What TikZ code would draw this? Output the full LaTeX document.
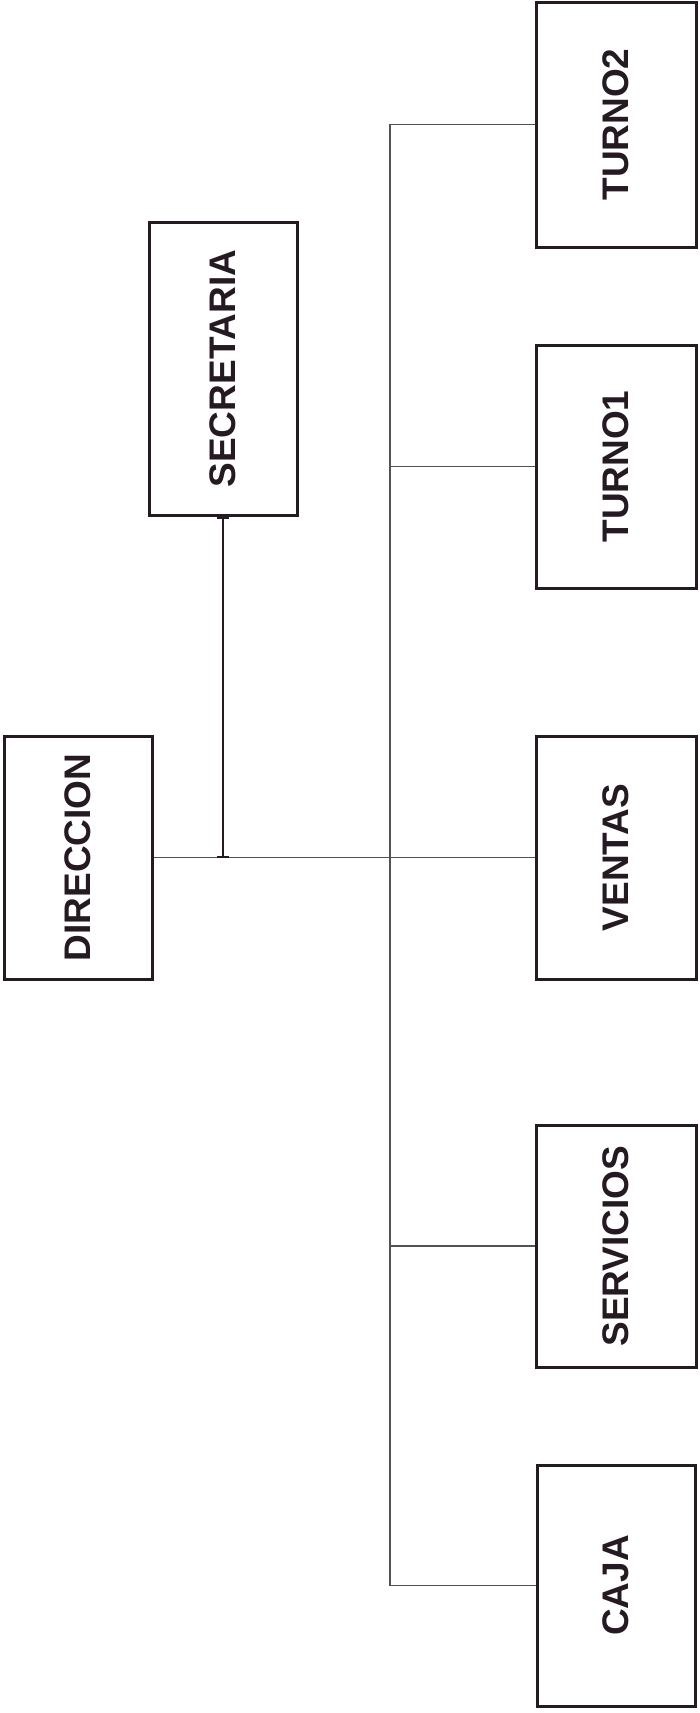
\documentclass[tikz,border=0pt]{standalone}
\usepackage{fontspec}
\setmainfont{Liberation Sans}
\usetikzlibrary{arrows.meta}
\definecolor{tinta}{RGB}{38,26,34}
\definecolor{linea}{RGB}{85,80,84}
\begin{document}
\begin{tikzpicture}[x=1pt,y=-1pt,
  unidad/.style={draw=tinta, line width=3pt, inner sep=0pt, text=tinta,
    font=\fontsize{37}{40}\selectfont\bfseries},
  enlace/.style={draw=linea, line width=1.6pt}]
\useasboundingbox (0,0) rectangle (699,1713);
\node[unidad, minimum width=148pt, minimum height=243pt] (dir) at (78,857.5) {\rotatebox{90}{DIRECCION}};
\node[unidad, minimum width=148pt, minimum height=293pt] (sec) at (223,368.5) {\rotatebox{90}{SECRETARIA}};

\node[unidad, minimum width=160pt, minimum height=245pt] (t2) at (616,124.5) {\rotatebox{90}{TURNO2}};
\node[unidad, minimum width=160pt, minimum height=243pt] (t1) at (616,466.5) {\rotatebox{90}{TURNO1}};
\node[unidad, minimum width=160pt, minimum height=243pt] (ven) at (616,857.5) {\rotatebox{90}{VENTAS}};
\node[unidad, minimum width=160pt, minimum height=242pt] (ser) at (616,1246) {\rotatebox{90}{SERVICIOS}};
\node[unidad, minimum width=158pt, minimum height=241pt] (caja) at (616,1585.5) {\rotatebox{90}{CAJA}};

\coordinate (bus) at (390,857.5);

\draw[enlace] (dir.east) -- (ven.west);
\draw[enlace] (t2.west) -| (bus) |- (caja.west);
\draw[enlace] (t1.west) -- (t1.west -| bus);
\draw[enlace] (ser.west) -- (ser.west -| bus);
\draw[enlace, draw=tinta, {Bar[width=12pt,line width=2pt]}-{Bar[width=12pt,line width=2pt]}] (sec.south) -- (sec.south |- dir.east);
\end{tikzpicture}
\end{document}
